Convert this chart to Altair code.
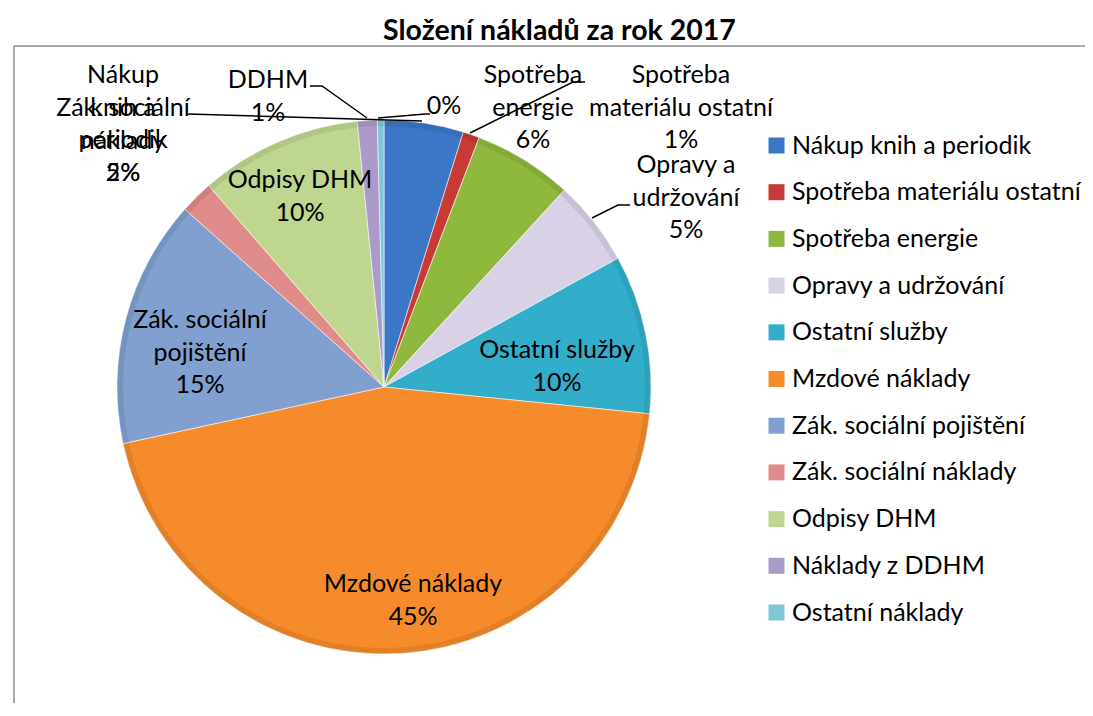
import altair as alt
import pandas as pd

# ---- data ----
categories = [
    "Nákup knih a periodik",
    "Spotřeba materiálu ostatní",
    "Spotřeba energie",
    "Opravy a udržování",
    "Ostatní služby",
    "Mzdové náklady",
    "Zák. sociální pojištění",
    "Zák. sociální náklady",
    "Odpisy DHM",
    "Náklady z DDHM",
    "Ostatní náklady",
]
values = [4.8, 1.0, 6.0, 5.2, 9.6, 45.0, 15.0, 2.0, 9.8, 1.2, 0.4]
colors = ["#3b77c6", "#c73a36", "#8fb93e", "#d9d1e6", "#33aeca", "#f68b2c",
          "#819fcf", "#e08c8b", "#bed68f", "#ab9bca", "#80c6d6"]

# data labels (text as shown in the chart)
label_texts = [
    "Nákup\nknih a\nperiodik\n5%",
    "Zák. sociální\nnáklady\n2%",
    "DDHM\n1%",
    "0%",
    "Spotřeba\nenergie\n6%",
    "Spotřeba\nmateriálu ostatní\n1%",
    "Opravy a\nudržování\n5%",
    "Ostatní služby\n10%",
    "Mzdové náklady\n45%",
    "Zák. sociální\npojištění\n15%",
    "Odpisy DHM\n10%",
]

# ---- layout (page pixels) ----
OX, OY = 8, 48          # plot-area origin on the page
CX, CY, R = 384, 387, 267
# centre of the first line of each label
label_px = [(123, 75), (123, 108), (268, 80), (444, 106), (533, 75),
            (681, 75), (686, 165), (557, 350), (413, 584), (200, 320),
            (300, 180)]
leaders = [
    [(188, 114), (422, 121)],
    [(310, 86), (322, 86), (367, 118)],
    [(378, 118), (425, 114), (430, 114)],
    [(470, 133), (573, 82), (585, 82)],
    [(592, 218), (618, 205), (630, 205)],
]

FONT = "Lato"
FS = 25

pie_df = pd.DataFrame({"category": categories, "value": values,
                       "idx": list(range(len(categories)))})

lab_df = pd.DataFrame({
    "text": label_texts,
    "x": [p[0] - OX for p in label_px],
    "y": [p[1] - OY for p in label_px],
})

rows = []
for g, pts in enumerate(leaders):
    for k, (px, py) in enumerate(pts):
        rows.append({"g": g, "k": k, "x": px - OX, "y": py - OY})
lead_df = pd.DataFrame(rows)

pie = alt.Chart(pie_df).mark_arc(
    outerRadius=R, stroke="#ffffff", strokeWidth=0.8, strokeOpacity=0.7
).encode(
    theta=alt.Theta("value:Q", stack=True),
    order=alt.Order("idx:Q"),
    color=alt.Color(
        "category:N",
        sort=categories,
        scale=alt.Scale(domain=categories, range=colors),
        legend=alt.Legend(
            title=None, orient="none", legendX=756, legendY=85,
            symbolType="square", symbolSize=256, symbolStrokeWidth=0,
            labelFont=FONT, labelFontSize=FS, labelColor="#000000",
            labelOffset=3, rowPadding=20.7, labelLimit=400,
        ),
    ),
    x=alt.value(CX - OX),
    y=alt.value(CY - OY),
)

edge = alt.Chart(pie_df).mark_arc(
    outerRadius=R, innerRadius=R - 6, fill="#000000", fillOpacity=0.08
).encode(
    theta=alt.Theta("value:Q", stack=True),
    order=alt.Order("idx:Q"),
    x=alt.value(CX - OX),
    y=alt.value(CY - OY),
)

lines = alt.Chart(lead_df).mark_line(color="#000000", strokeWidth=1.5).encode(
    x=alt.X("x:Q", scale=None, axis=None),
    y=alt.Y("y:Q", scale=None, axis=None),
    detail="g:N",
    order="k:Q",
)

labels = alt.Chart(lab_df).mark_text(
    font=FONT, fontSize=FS, color="#000000", lineBreak="\n", lineHeight=32.5,
    align="center", baseline="middle",
).encode(
    x=alt.X("x:Q", scale=None, axis=None),
    y=alt.Y("y:Q", scale=None, axis=None),
    text="text:N",
)

frame_df = pd.DataFrame({"x": [14 - OX, 14 - OX], "y": [46 - OY, 46 - OY],
                         "x2": [1100 - OX, 14 - OX], "y2": [46 - OY, 720 - OY]})
frame = alt.Chart(frame_df).mark_rule(color="#8c8c8c", strokeWidth=1.5).encode(
    x=alt.X("x:Q", scale=None, axis=None), x2="x2:Q",
    y=alt.Y("y:Q", scale=None, axis=None), y2="y2:Q",
)

chart = alt.layer(frame, pie, edge, lines, labels).properties(
    width=1077,
    height=655,
    title=alt.TitleParams(
        "Složení nákladů za rok 2017", font=FONT, fontSize=28.5,
        fontWeight="bold", color="#000000", anchor="middle", dx=13, offset=0,
    ),
).configure_view(stroke=None).properties(
    autosize=alt.AutoSizeParams(type="none"),
    padding={"left": 0, "top": 40, "right": 0, "bottom": 0},
)

chart.save("out.html", embed_options={"renderer": "svg", "actions": False})
